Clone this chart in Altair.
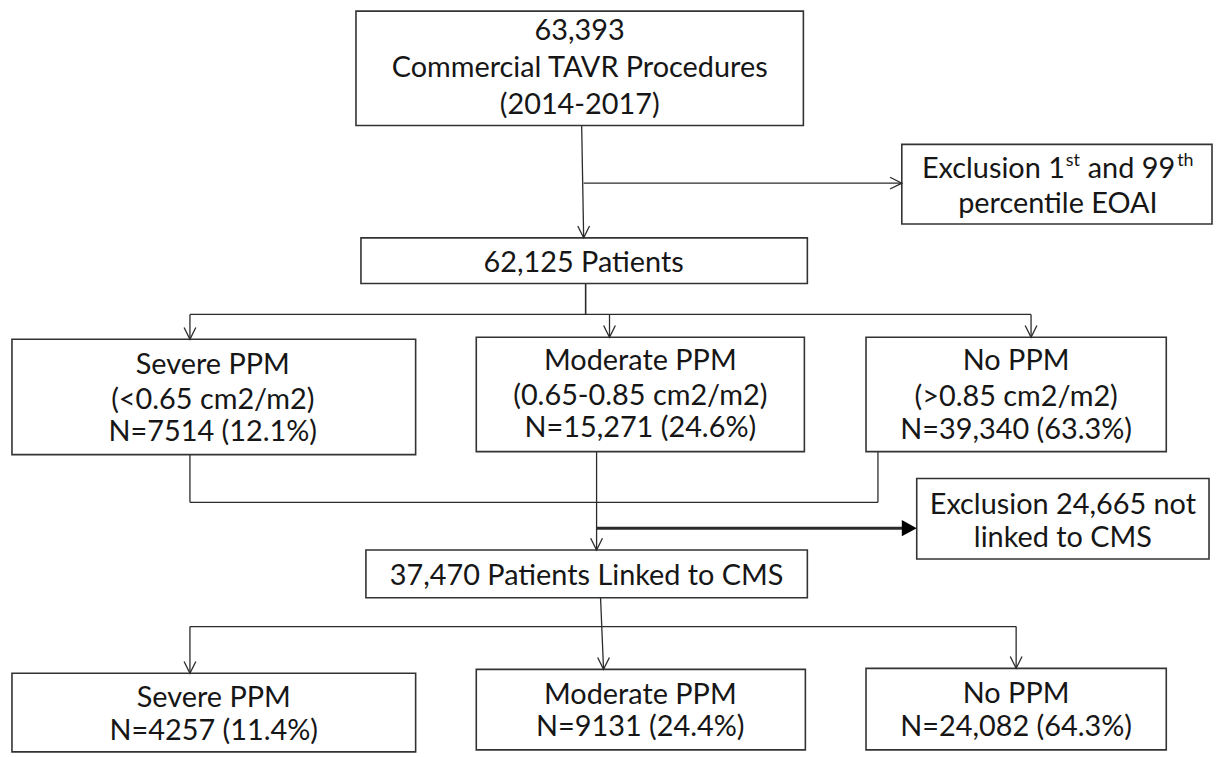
import altair as alt
import pandas as pd

# ---------------- text content ----------------
top_lines = ["63,393", "Commercial TAVR Procedures", "(2014-2017)"]
excl1_line2 = "percentile EOAI"
all_patients = "62,125 Patients"
group_names = ["Severe PPM", "Moderate PPM", "No PPM"]
group_ranges = ["(<0.65 cm2/m2)", "(0.65-0.85 cm2/m2)", "(>0.85 cm2/m2)"]
group_counts = ["N=7514 (12.1%)", "N=15,271 (24.6%)", "N=39,340 (63.3%)"]
excl2_lines = ["Exclusion 24,665 not", "linked to CMS"]
linked = "37,470 Patients Linked to CMS"
cms_counts = ["N=4257 (11.4%)", "N=9131 (24.4%)", "N=24,082 (64.3%)"]

# ---------------- layout (pixel space) ----------------
W, H = 1205, 749
FONT = "Lato"
FS = 29

boxes = pd.DataFrame(
    [
        (358, 9, 808, 124),
        (907, 143, 1219, 223),
        (363, 237, 812, 283),
        (12, 339, 418, 455),
        (479, 337, 809, 452),
        (871, 337, 1173, 452),
        (922, 479, 1216, 560),
        (368, 551, 812, 599),
        (12, 675, 418, 754),
        (479, 671, 810, 752),
        (871, 670, 1173, 752),
    ],
    columns=["x1", "y1", "x2", "y2"],
)

lines = pd.DataFrame(
    [
        (585, 124, 587, 237, 1.3),
        (587, 182, 907, 182, 1.3),
        (589, 283, 589, 314, 1.6),
        (191, 314, 1037, 314, 1.3),
        (191, 314, 191, 339, 1.3),
        (613, 314, 613, 337, 1.3),
        (1037, 314, 1037, 337, 1.3),
        (191, 455, 191, 503, 1.3),
        (883, 452, 883, 503, 1.3),
        (191, 503, 883, 503, 1.3),
        (600, 452, 600, 551, 1.3),
        (600, 529, 910, 529, 3.0),
        (604, 599, 607, 671, 1.3),
        (191, 628, 1022, 628, 1.3),
        (191, 628, 191, 675, 1.3),
        (1022, 628, 1022, 670, 1.3),
    ],
    columns=["x1", "y1", "x2", "y2", "w"],
)

down_arrows = pd.DataFrame(
    [(587, 237), (191, 339), (613, 337), (1037, 337), (600, 551), (607, 671), (191, 675), (1022, 670)],
    columns=["x", "y"],
)
right_open = pd.DataFrame([(907, 182)], columns=["x", "y"])
right_filled = pd.DataFrame([(922, 529)], columns=["x", "y"])

text_rows = []
for t, yy in zip(top_lines, [29, 66, 103]):
    text_rows.append((583, yy, t))
text_rows.append((587, 262, all_patients))
for cx, ys, n, r, c in zip(
    [214, 644, 1022],
    [(365, 400, 432), (361, 396, 428), (361, 397, 430)],
    group_names, group_ranges, group_counts,
):
    text_rows.append((cx, ys[0], n))
    text_rows.append((cx, ys[1], r))
    text_rows.append((cx, ys[2], c))
text_rows.append((1064, 203, excl1_line2))
text_rows.append((1069, 506, excl2_lines[0]))
text_rows.append((1069, 539, excl2_lines[1]))
text_rows.append((590, 577, linked))
for cx, ys, n, c in zip([215, 644, 1022], [(700, 733), (697, 729), (696, 729)], group_names, cms_counts):
    text_rows.append((cx, ys[0], n))
    text_rows.append((cx, ys[1], c))
texts_c = pd.DataFrame(text_rows, columns=["x", "y", "t"])

# superscript line pieces
sup_first = pd.DataFrame([(1071, 168, "Exclusion 1")], columns=["x", "y", "t"])
sup_second = pd.DataFrame([(1094, 168, "and 99")], columns=["x", "y", "t"])
sup_small = pd.DataFrame([(1072, 160, "st"), (1184, 160, "th")], columns=["x", "y", "t"])

xs = alt.Scale(domain=[8, 8 + W], nice=False, zero=False)
ys = alt.Scale(domain=[8, 8 + H], nice=False, zero=False, reverse=True)

INK = "#161616"
LINE = "#2b2b2b"


def pos(xf, yf):
    return dict(
        x=alt.X(xf, scale=xs, axis=None),
        y=alt.Y(yf, scale=ys, axis=None),
    )


rules = alt.Chart(lines).mark_rule(color=LINE).encode(
    **pos("x1:Q", "y1:Q"),
    x2="x2:Q",
    y2="y2:Q",
    strokeWidth=alt.StrokeWidth("w:Q", scale=None),
)

rects = alt.Chart(boxes).mark_rect(fill="white", stroke="#333333", strokeWidth=1.6).encode(
    **pos("x1:Q", "y1:Q"),
    x2="x2:Q",
    y2="y2:Q",
)

down = alt.Chart(down_arrows).mark_point(
    shape="M-0.5,-1L0,0L0.5,-1", filled=False, size=560, color=LINE, strokeWidth=1.3, opacity=1
).encode(**pos("x:Q", "y:Q"))

ropen = alt.Chart(right_open).mark_point(
    shape="M-1,-0.5L0,0L-1,0.5", filled=False, size=560, color=LINE, strokeWidth=1.3, opacity=1
).encode(**pos("x:Q", "y:Q"))

rfill = alt.Chart(right_filled).mark_point(
    shape="M-1,-0.55L0,0L-1,0.55Z", filled=True, size=900, color="#000000", opacity=1
).encode(**pos("x:Q", "y:Q"))

txt = alt.Chart(texts_c).mark_text(
    font=FONT, fontSize=FS, color=INK, baseline="middle", align="center"
).encode(**pos("x:Q", "y:Q"), text="t:N")

sup_a = alt.Chart(sup_first).mark_text(
    font=FONT, fontSize=FS, color=INK, baseline="middle", align="right"
).encode(**pos("x:Q", "y:Q"), text="t:N")

sup_b = alt.Chart(sup_second).mark_text(
    font=FONT, fontSize=FS, color=INK, baseline="middle", align="left"
).encode(**pos("x:Q", "y:Q"), text="t:N")

sup_s = alt.Chart(sup_small).mark_text(
    font=FONT, fontSize=18, color=INK, baseline="middle", align="left"
).encode(**pos("x:Q", "y:Q"), text="t:N")

chart = (
    alt.layer(rules, rects, down, ropen, rfill, txt, sup_a, sup_b, sup_s)
    .properties(width=W, height=H, padding=0, background="white")
    .configure_view(stroke=None)
)

chart.save("out.html", embed_options={"renderer": "svg", "actions": False})
